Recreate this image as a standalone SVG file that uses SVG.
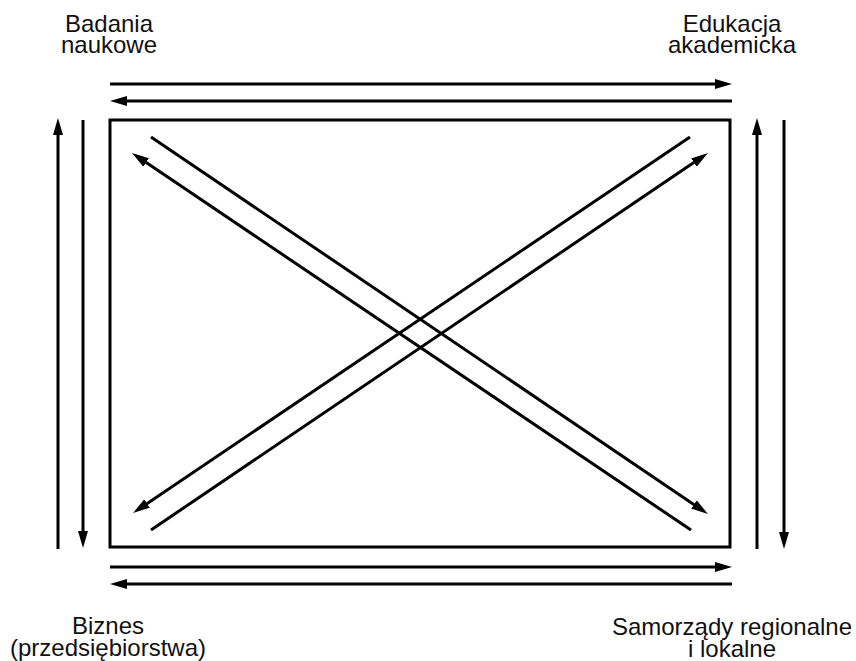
<svg xmlns="http://www.w3.org/2000/svg" width="856" height="661" viewBox="0 0 856 661">
<style>
.lbl{font-family:"Liberation Sans",Arial,sans-serif;font-size:24px;fill:#111;text-anchor:middle}
.ln{stroke:#000;stroke-width:3;fill:none}
.arr{stroke:#000;stroke-width:3;fill:none;marker-end:url(#ah)}
</style>
<defs>
<marker id="ah" markerUnits="userSpaceOnUse" markerWidth="18" markerHeight="11" refX="7" refY="5" orient="auto" viewBox="0 0 18 10">
<path d="M0,0 L17,5 L0,10 z" fill="#000"/>
</marker>
</defs>
<rect width="856" height="661" fill="#fff"/>
<g id="frame">
<rect x="110" y="120" width="620" height="427" class="ln"/>
</g>
<g id="connectors">
<line x1="110" y1="84" x2="722" y2="84" class="arr"/>
<line x1="732" y1="101" x2="120" y2="101" class="arr"/>
<line x1="110" y1="567" x2="722" y2="567" class="arr"/>
<line x1="732" y1="584" x2="120" y2="584" class="arr"/>
<line x1="58" y1="549" x2="58" y2="128" class="arr"/>
<line x1="83" y1="120" x2="83" y2="538" class="arr"/>
<line x1="757" y1="549" x2="757" y2="128" class="arr"/>
<line x1="784" y1="120" x2="784" y2="539" class="arr"/>
<line x1="151" y1="137" x2="699.7" y2="508.4" class="arr"/>
<line x1="691" y1="530" x2="140.3" y2="158.6" class="arr"/>
<line x1="690" y1="137" x2="141.3" y2="507.4" class="arr"/>
<line x1="151" y1="530" x2="699.7" y2="158.6" class="arr"/>
</g>
<g id="node-badania">
<text class="lbl" x="109" y="32">Badania</text>
<text class="lbl" x="109" y="53">naukowe</text>
</g>
<g id="node-edukacja">
<text class="lbl" x="732" y="32">Edukacja</text>
<text class="lbl" x="732" y="53">akademicka</text>
</g>
<g id="node-biznes">
<text class="lbl" x="108" y="634">Biznes</text>
<text class="lbl" x="108" y="656">(przedsiębiorstwa)</text>
</g>
<g id="node-samorzady">
<text class="lbl" x="732" y="635">Samorządy regionalne</text>
<text class="lbl" x="732" y="657">i lokalne</text>
</g>
</svg>
